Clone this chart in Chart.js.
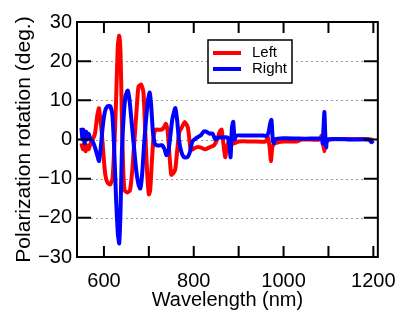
<!DOCTYPE html>
<html>
<head>
<meta charset="utf-8">
<script src="https://cdn.jsdelivr.net/npm/chart.js@4"></script>
<style>
  html, body { margin: 0; padding: 0; background: #fff; }
  #wrap { width: 408px; height: 324px; }
</style>
</head>
<body>
<div id="wrap"><canvas id="rotChart" width="408" height="324"></canvas></div>
<script>
// wavelength (nm) / rotation (deg.)
const leftWl = [550, 553, 556, 559, 562, 566, 570, 575, 580, 585, 589, 592, 595, 599, 603, 608, 614, 619, 623, 627, 631, 634, 637, 640, 643, 646, 652, 658, 663, 668, 673, 677, 683, 688, 692, 696, 700, 703, 707, 711, 715, 722, 728, 733, 738, 742, 746, 750, 755, 759, 763, 768, 773, 780, 787, 793, 798, 805, 815, 825, 835, 845, 852, 858, 862, 866, 870, 874, 880, 888, 900, 930, 960, 965, 969, 972, 975, 980, 1000, 1030, 1040, 1080, 1085, 1088, 1091, 1094, 1100, 1195, 1200];
const leftRot = [-1, -2.5, -1, -3, -1.5, -2.5, -1, 0, 1.5, 6, 8, 5, 2, -4, -9, -11, -11.5, -10, -2, 10, 24, 26.5, 22, 5, -8, -13, -13.5, -13, -8, 0, 8, 13.5, 14, 12, 2, -8, -14, -13, -5, 1, 2.5, 2.5, 2.5, 3, 4, 2, -4, -9, -8.5, -7.5, -3, 2, 3, 4.5, 3, -2.5, -2.5, -2, -2, -2.5, -2, -1.5, 0, 2, 2.5, -1, -4.5, -2, 0, -1, -0.5, -0.5, -0.5, 0.6, -2, -5.5, -2, -1, -0.5, -0.5, 0, 0, 1, -1, -3, -1, 0, 0, -0.3];

const rightWl = [550, 552, 554, 557, 560, 563, 566, 570, 575, 580, 585, 589, 593, 597, 602, 608, 614, 619, 623, 627, 631, 634, 637, 640, 644, 648, 653, 657, 662, 667, 672, 677, 681, 685, 689, 693, 698, 702, 705, 709, 713, 718, 724, 730, 735, 739, 743, 748, 752, 756, 759, 763, 767, 772, 778, 786, 792, 797, 807, 815, 822, 828, 835, 842, 848, 855, 865, 875, 879, 882, 885, 888, 891, 895, 910, 930, 955, 963, 967, 970, 973, 976, 978, 981, 1000, 1050, 1085, 1087, 1089, 1091, 1093, 1095, 1098, 1150, 1190, 1196, 1200];
const rightRot = [3, 0, 2.5, -1, 2, 0, 1.5, 0, -0.5, -2, -4, -5.5, -2, 3, 7, 8.5, 8.5, 6, -3, -15, -24, -26.5, -18, -3, 6, 11, 12.5, 10, 4, -2, -8, -11.5, -12.5, -9, -2, 4, 10, 12, 9, 2, -1, -1.5, -1.5, -1.5, -2.5, -4, -3.5, 1, 5, 7, 8, 5, 0, -3, -4.5, -4.5, -3, -0.5, 0.5, 1, 2, 2, 1.5, 1.5, 0, 0.5, 0.5, 0.5, -1, -4.5, 3, 4.5, 0, 1, 1, 1, 1, 1, 2, 4, 5, 0, -1, 0, 0.3, 0.2, 0.2, -1, 3, 7, 1, -2, 0, 0, 0, -0.7, -0.3];

const seriesNames = ["Left", "Right"];
const seriesColors = ["#ff0000", "#0000ff"];
const xTicks = [600, 700, 800, 900, 1000, 1100, 1200];
const xTickLabels = [600, 800, 1000, 1200];
const yTicks = [-30, -20, -10, 0, 10, 20, 30];
const gridLevels = [-20, -10, 0, 10, 20];

const FONT = "'Liberation Sans', Arial, sans-serif";

const toPoints = (xs, ys) => xs.map((x, i) => ({ x: x, y: ys[i] }));

// grid, frame, inward ticks and boxed legend
const framePlugin = {
  id: "frame",
  beforeDatasetsDraw(chart) {
    const { ctx, chartArea: a, scales: { y } } = chart;
    ctx.save();
    ctx.strokeStyle = "#9a9a9a";
    ctx.lineWidth = 1;
    ctx.setLineDash([2, 3]);
    gridLevels.forEach(v => {
      const py = Math.round(y.getPixelForValue(v)) + 0.5;
      ctx.beginPath();
      ctx.moveTo(a.left + 14, py);
      ctx.lineTo(a.right - 14, py);
      ctx.stroke();
    });
    ctx.restore();
  },
  afterDatasetsDraw(chart) {
    const { ctx, chartArea: a, scales: { x, y } } = chart;
    ctx.save();
    ctx.strokeStyle = "#000";
    ctx.lineWidth = 2;
    ctx.strokeRect(a.left, a.top, a.right - a.left, a.bottom - a.top);
    ctx.beginPath();
    xTicks.forEach(v => {
      const px = x.getPixelForValue(v);
      ctx.moveTo(px, a.top); ctx.lineTo(px, a.top + 11);
      ctx.moveTo(px, a.bottom); ctx.lineTo(px, a.bottom - 11);
    });
    yTicks.forEach(v => {
      const py = y.getPixelForValue(v);
      ctx.moveTo(a.left, py); ctx.lineTo(a.left + 14, py);
      ctx.moveTo(a.right, py); ctx.lineTo(a.right - 14, py);
    });
    ctx.stroke();

    // legend
    const bx = 208, by = 40, bw = 84, bh = 43;
    ctx.fillStyle = "#fff";
    ctx.fillRect(bx, by, bw, bh);
    ctx.lineWidth = 1.5;
    ctx.strokeRect(bx, by, bw, bh);
    ctx.font = "15px " + FONT;
    ctx.textBaseline = "middle";
    seriesNames.forEach((name, i) => {
      const ly = by + 13 + i * 16;
      ctx.strokeStyle = seriesColors[i];
      ctx.lineWidth = 4;
      ctx.beginPath();
      ctx.moveTo(bx + 5, ly);
      ctx.lineTo(bx + 33, ly);
      ctx.stroke();
      ctx.fillStyle = "#000";
      ctx.fillText(name, bx + 44, ly);
    });
    ctx.restore();
  }
};

new Chart(document.getElementById("rotChart"), {
  type: "scatter",
  data: {
    datasets: [
      {
        label: seriesNames[0],
        data: toPoints(leftWl, leftRot),
        borderColor: seriesColors[0],
        backgroundColor: seriesColors[0],
        showLine: true,
        borderWidth: 4,
        pointRadius: 0,
        tension: 0.2,
        order: 1
      },
      {
        label: seriesNames[1],
        data: toPoints(rightWl, rightRot),
        borderColor: seriesColors[1],
        backgroundColor: seriesColors[1],
        showLine: true,
        borderWidth: 4,
        pointRadius: 0,
        tension: 0.2,
        order: 0
      }
    ]
  },
  options: {
    responsive: false,
    animation: false,
    layout: { padding: { top: 22, right: 27, left: 0, bottom: 0 } },
    plugins: { legend: { display: false }, tooltip: { enabled: false } },
    scales: {
      x: {
        type: "linear",
        min: 540,
        max: 1210,
        grid: { display: false, drawTicks: false },
        border: { display: false },
        afterBuildTicks: s => { s.ticks = xTickLabels.map(v => ({ value: v })); },
        afterFit: s => { s.height = 67; },
        ticks: {
          color: "#000",
          padding: 12,
          maxRotation: 0,
          callback: v => String(v),
          font: { family: FONT, size: 20 }
        },
        title: {
          display: true,
          text: "Wavelength (nm)",
          color: "#000",
          padding: { top: 0, bottom: 12 },
          font: { family: FONT, size: 20 }
        }
      },
      y: {
        min: -30,
        max: 30,
        grid: { display: false, drawTicks: false },
        border: { display: false },
        afterBuildTicks: s => { s.ticks = yTicks.map(v => ({ value: v })); },
        afterFit: s => { s.width = 77; },
        ticks: {
          color: "#000",
          padding: 5,
          callback: v => (v < 0 ? "\u2212" + Math.abs(v) : String(v)),
          font: { family: FONT, size: 20 }
        },
        title: {
          display: true,
          text: "Polarization rotation (deg.)",
          color: "#000",
          padding: { top: 12, bottom: 0 },
          font: { family: FONT, size: 21 }
        }
      }
    }
  },
  plugins: [framePlugin]
});
</script>
</body>
</html>
